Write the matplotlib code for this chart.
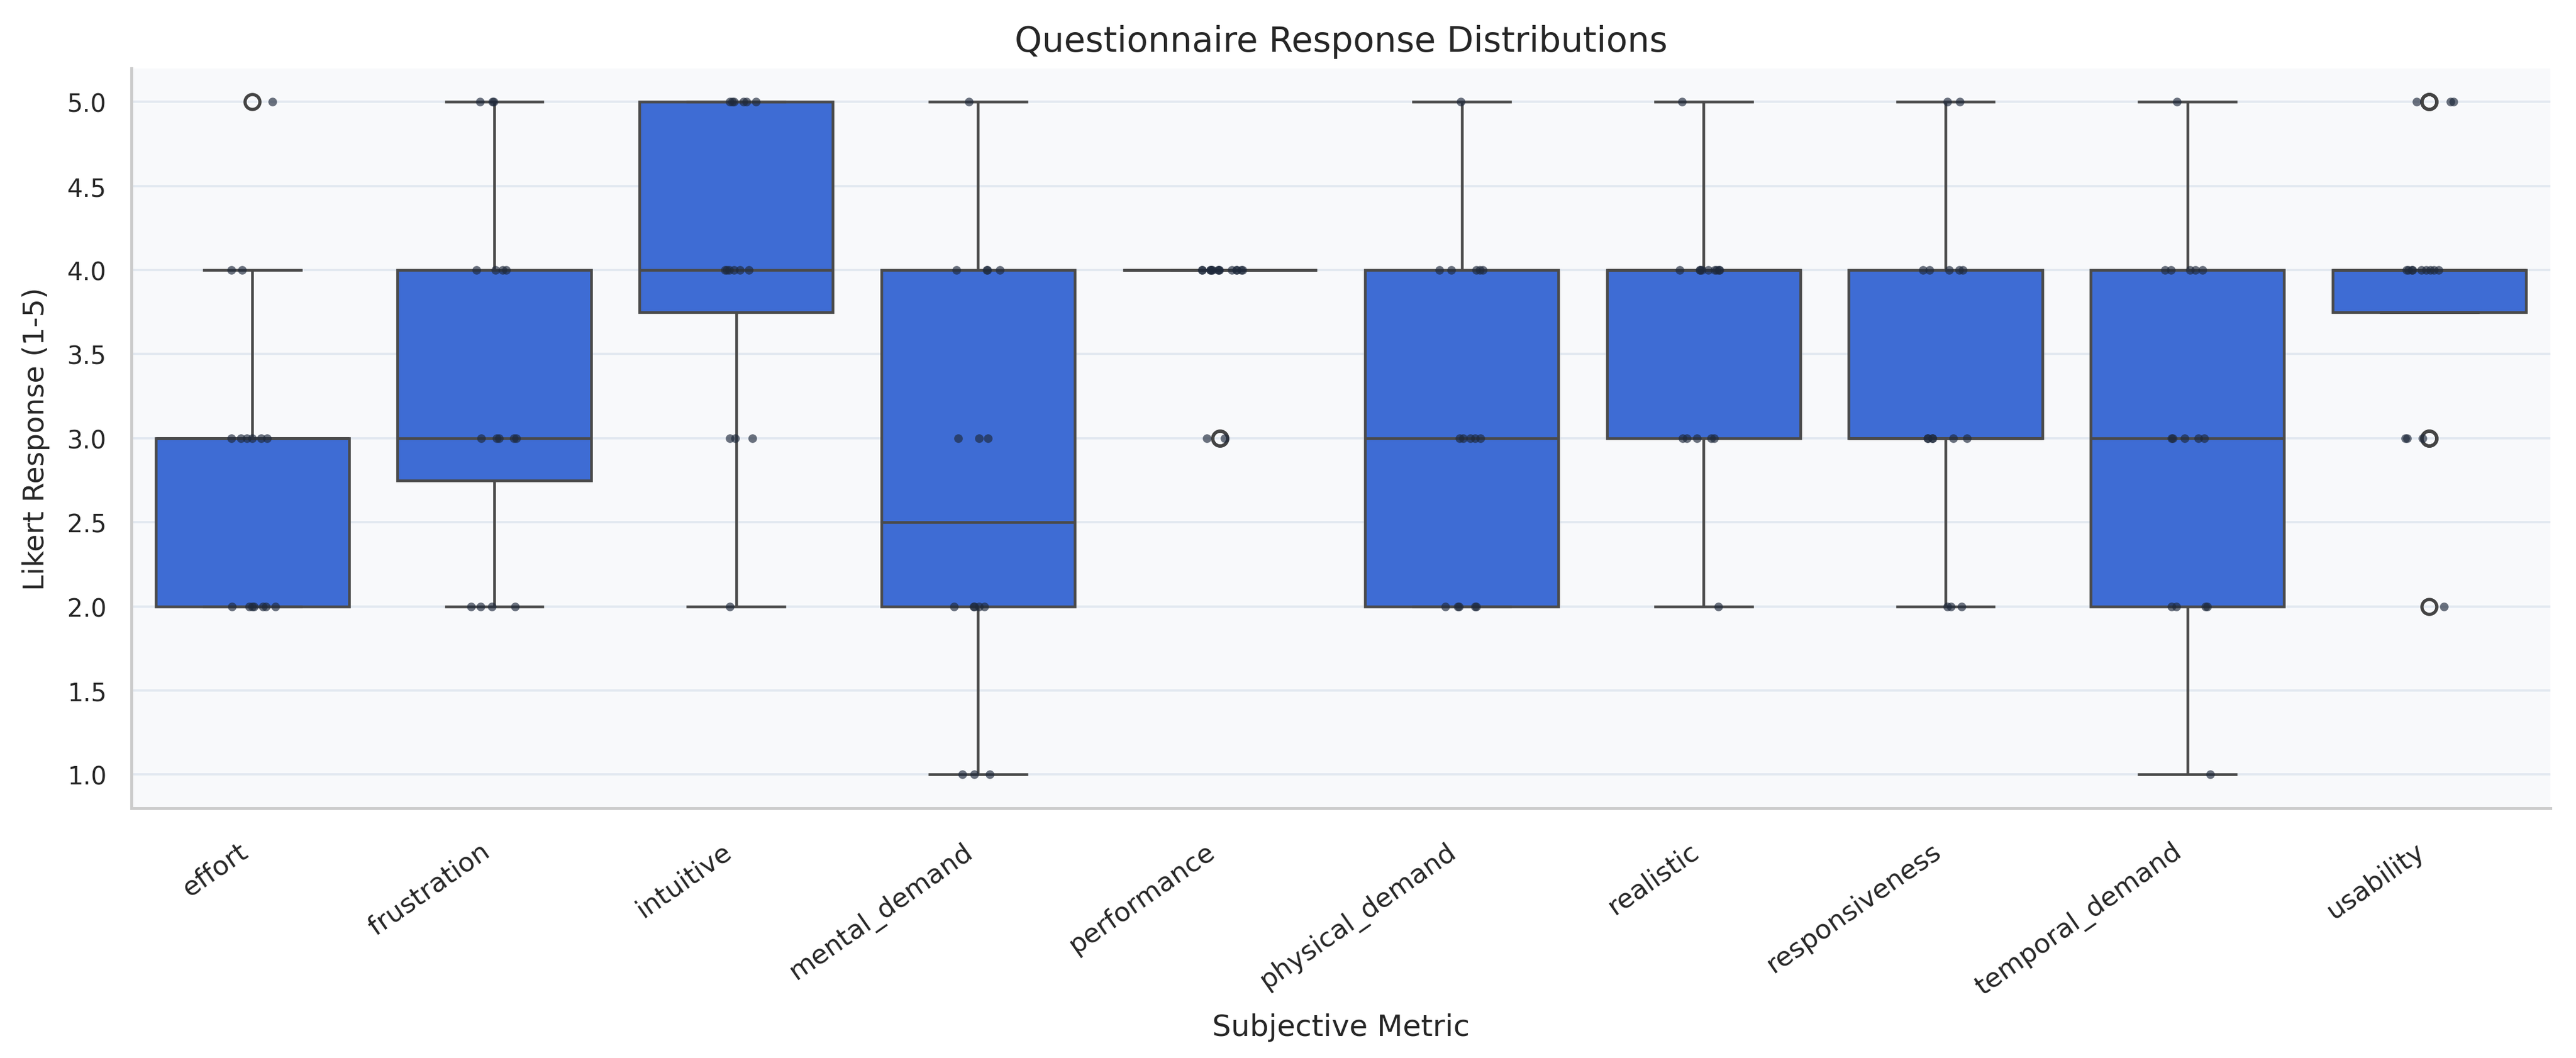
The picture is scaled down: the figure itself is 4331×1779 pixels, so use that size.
import numpy as np
import pandas as pd
import matplotlib
matplotlib.use("Agg")
import matplotlib.pyplot as plt
import seaborn as sns

# Likert responses (1-5) per subjective metric
metrics = ["effort", "frustration", "intuitive", "mental_demand", "performance",
           "physical_demand", "realistic", "responsiveness", "temporal_demand", "usability"]

effort = [2, 2, 2, 2, 2, 2, 2, 3, 3, 3, 3, 3, 3, 4, 4, 5]
frustration = [2, 2, 2, 2, 3, 3, 3, 3, 3, 4, 4, 4, 4, 5, 5, 5]
intuitive = [2, 3, 3, 3, 4, 4, 4, 4, 4, 4, 5, 5, 5, 5, 5, 5]
mental_demand = [1, 1, 1, 2, 2, 2, 2, 2, 3, 3, 3, 4, 4, 4, 4, 5]
performance = [3, 3, 4, 4, 4, 4, 4, 4, 4, 4, 4, 4, 4, 4, 4, 4]
physical_demand = [2, 2, 2, 2, 2, 3, 3, 3, 3, 3, 4, 4, 4, 4, 4, 5]
realistic = [2, 3, 3, 3, 3, 3, 4, 4, 4, 4, 4, 4, 4, 4, 4, 5]
responsiveness = [2, 2, 2, 3, 3, 3, 3, 3, 3, 4, 4, 4, 4, 4, 5, 5]
temporal_demand = [1, 2, 2, 2, 2, 3, 3, 3, 3, 3, 4, 4, 4, 4, 4, 5]
usability = [2, 3, 3, 3, 4, 4, 4, 4, 4, 4, 4, 4, 4, 5, 5, 5]

responses = [effort, frustration, intuitive, mental_demand, performance,
             physical_demand, realistic, responsiveness, temporal_demand, usability]

rows = []
for name, vals in zip(metrics, responses):
    for v in vals:
        rows.append({"metric": name, "response": v})
df = pd.DataFrame(rows)

np.random.seed(7)

fig, ax = plt.subplots(figsize=(14.437, 5.933), dpi=300)
fig.patch.set_facecolor("white")
ax.set_facecolor("#f8f9fb")

sns.boxplot(data=df, x="metric", y="response", order=metrics, ax=ax,
            color="#3e6cd4", saturation=1, width=0.8, linewidth=1.1,
            linecolor="#4a4a4a", fliersize=6,
            flierprops=dict(marker="o", markerfacecolor="none",
                            markeredgecolor="#444444", markeredgewidth=1.3))
sns.stripplot(data=df, x="metric", y="response", order=metrics, ax=ax,
              color="#1e293b", alpha=0.65, size=3.5, jitter=0.1)

ax.set_ylim(0.8, 5.2)
ax.set_yticks(np.arange(1.0, 5.01, 0.5))
ax.set_yticklabels([f"{t:.1f}" for t in np.arange(1.0, 5.01, 0.5)])
ax.yaxis.grid(True, color="#e2e8f0", linewidth=0.9)
ax.xaxis.grid(False)
ax.set_axisbelow(True)

for s in ["top", "right"]:
    ax.spines[s].set_visible(False)
for s in ["left", "bottom"]:
    ax.spines[s].set_color("#cccccc")
    ax.spines[s].set_linewidth(1.2)

ax.tick_params(axis="y", length=0, labelsize=10, colors="#262626", pad=10)
ax.tick_params(axis="x", length=0, labelsize=10.8, colors="#262626", pad=12)
plt.setp(ax.get_xticklabels(), rotation=35, ha="right")

ax.set_title("Questionnaire Response Distributions", fontsize=14, color="#262626", pad=7)
ax.set_xlabel("Subjective Metric", fontsize=12, color="#262626", labelpad=5)
ax.set_ylabel("Likert Response (1-5)", fontsize=11.5, color="#262626", labelpad=7)

fig.subplots_adjust(left=0.051, right=0.990, top=0.935, bottom=0.236)
fig.savefig("out.png", dpi=300)
